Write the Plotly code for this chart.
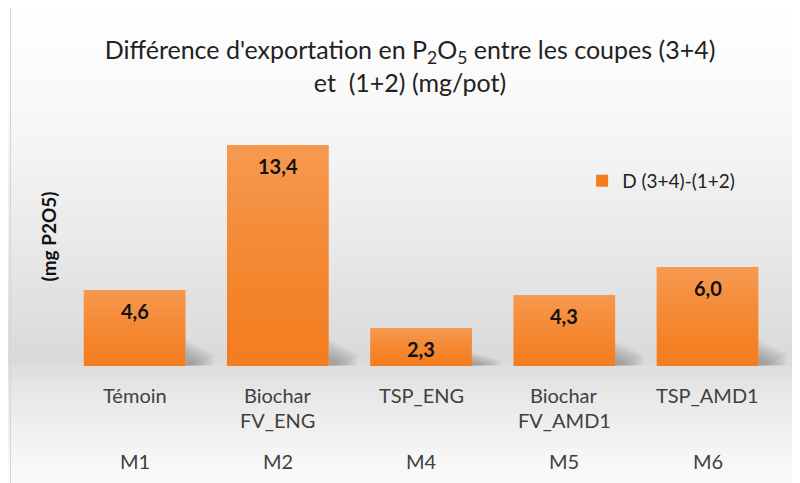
import plotly.graph_objects as go

# ---- data ----
codes = ["M1", "M2", "M4", "M5", "M6"]
treatments = ["Témoin", "Biochar<br>FV_ENG", "TSP_ENG", "Biochar<br>FV_AMD1", "TSP_AMD1"]
values = [4.6, 13.4, 2.3, 4.3, 6.0]
value_labels = ["4,6", "13,4", "2,3", "4,3", "6,0"]
series_name = "D (3+4)-(1+2)"

OFF = 8                      # page body margin
W, H = 800 - OFF, 483 - OFF  # figure size
# plot area in reference pixel coordinates
PX0, PX1, PY0, PY1 = 62.5, 787.0, 110.0, 366.0
L, R, T, B = PX0 - OFF, W - (PX1 - OFF), PY0 - OFF, H - (PY1 - OFF)
PW, PH = PX1 - PX0, PY1 - PY0
YMAX = 15.52
HALF = 0.355  # half bar width in category units (bargap 0.29)

def px_x(p):
    return (p - PX0) / PW

def px_y(p):
    return (PY1 - p) / PH

FONT = "Lato"
TXT = "#404040"

fig = go.Figure()
fig.add_trace(go.Bar(
    x=codes, y=values, name=series_name,
    marker=dict(color="#f47d1f", line=dict(width=0)),
    showlegend=True,
))

shapes = []
# background gradient (white -> gray -> white)
n = 70
for i in range(n):
    y0 = 483 * i / n
    y1 = 483 * (i + 1) / n + 0.6
    ym = (y0 + y1) / 2
    if ym <= 360:
        t = ym / 360
        g = 255 - (255 - 217) * (t ** 1.4)
    else:
        t = (ym - 360) / (483 - 360)
        g = 217 + (251 - 217) * (t ** 0.7)
    g = int(round(g))
    shapes.append(dict(type="rect", xref="paper", yref="paper",
                       x0=px_x(0), x1=px_x(810), y0=px_y(y1), y1=px_y(y0),
                       fillcolor=f"rgb({g},{g},{g})", line=dict(width=0), layer="below"))
# frame lines
shapes.append(dict(type="rect", xref="paper", yref="paper",
                   x0=px_x(10), x1=px_x(795), y0=px_y(495), y1=px_y(7),
                   line=dict(color="#d4d4d4", width=1), fillcolor="rgba(0,0,0,0)", layer="below"))

# soft shadows to the right of bars (many faint layers to imitate blur)
for i, v in enumerate(values):
    right = i + HALF
    hgt = min(v * 0.35, 1.6)
    nl = 10
    for k in range(nl):
        s = 1 - k / nl * 0.8
        path = (f"M {right},0.02 L {right},{hgt*s} "
                f"L {right+0.2*s},{hgt*0.45*s} L {right+0.2*s},0.05 Z")
        shapes.append(dict(type="path", xref="x", yref="y", path=path,
                           fillcolor="rgba(70,70,70,0.045)", line=dict(width=0), layer="below"))

# light-to-dark vertical gradient on each bar (translucent white slices)
ns = 14
for i, v in enumerate(values):
    for k in range(ns):
        ya = v * k / ns
        yb = v * (k + 1) / ns
        op = 0.22 * ((k + 0.5) / ns) ** 1.2
        shapes.append(dict(type="rect", xref="x", yref="y",
                           x0=i - HALF, x1=i + HALF, y0=ya, y1=yb,
                           fillcolor=f"rgba(255,255,255,{op:.3f})", line=dict(width=0), layer="above"))

ann = []
for c, v, lab in zip(codes, values, value_labels):
    ann.append(dict(x=c, y=v, xref="x", yref="y", text=f"<b>{lab}</b>", showarrow=False,
                    yshift=-21, yanchor="middle",
                    font=dict(family=FONT, size=20, color="#111111")))
for c, tr in zip(codes, treatments):
    for j, line in enumerate(tr.split("<br>")):
        ann.append(dict(x=c, y=px_y(395 + 25 * j), xref="x", yref="paper", text=line,
                        showarrow=False, yanchor="middle",
                        font=dict(family=FONT, size=20, color=TXT)))
    ann.append(dict(x=c, y=px_y(461), xref="x", yref="paper", text=c,
                    showarrow=False, yanchor="middle",
                    font=dict(family=FONT, size=20, color=TXT)))
ann.append(dict(x=px_x(47), y=px_y(237), xref="paper", yref="paper",
                text="<b>(mg P2O5)</b>", textangle=-90, showarrow=False,
                xanchor="center", yanchor="middle",
                font=dict(family=FONT, size=19, color="#111111")))

fig.update_layout(
    width=W, height=H,
    margin=dict(l=L, r=R, t=T, b=B),
    paper_bgcolor="white", plot_bgcolor="rgba(0,0,0,0)",
    title=dict(text="Différence d'exportation en P<sub>2</sub>O<sub>5</sub> entre les coupes (3+4)<br>et  (1+2) (mg/pot)",
               x=(410 - OFF) / W, xanchor="center", xref="container",
               y=1 - (59 - OFF) / H, yanchor="middle", yref="container",
               font=dict(family=FONT, size=25, color="#222222")),
    xaxis=dict(showticklabels=False, showgrid=False, zeroline=False, showline=False, ticks=""),
    yaxis=dict(range=[0, YMAX], visible=False),
    bargap=0.29,
    legend=dict(x=px_x(582), y=px_y(181), xanchor="left", yanchor="middle",
                bgcolor="rgba(0,0,0,0)", font=dict(family=FONT, size=19, color="#222222")),
    shapes=shapes, annotations=ann,
)
fig.write_html("out.html")
